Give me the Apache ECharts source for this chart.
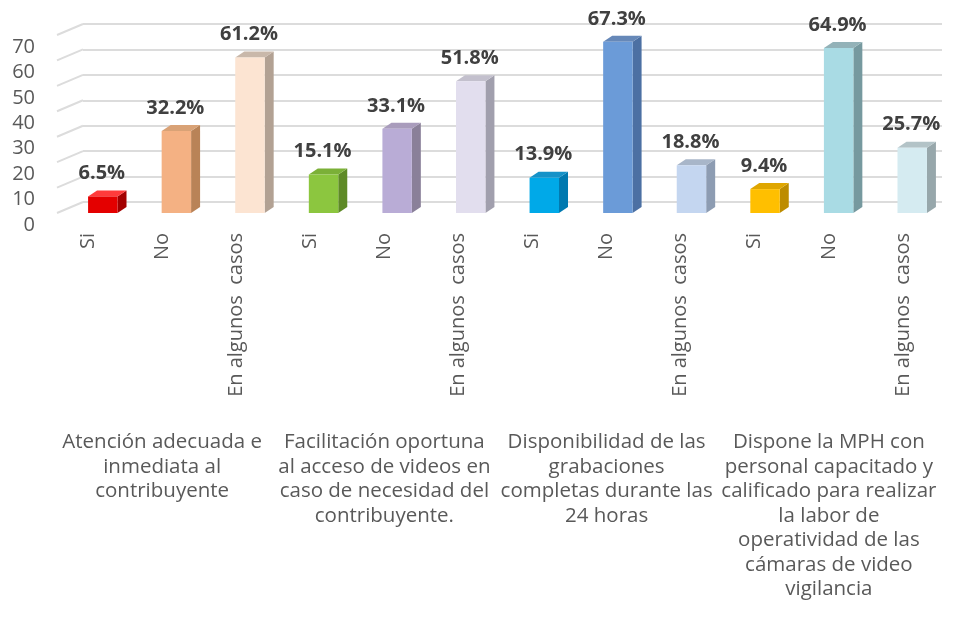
<!DOCTYPE html>
<html>
<head>
<meta charset="utf-8">
<script src="https://cdn.jsdelivr.net/npm/echarts@6/dist/echarts.min.js"></script>
<style>
  html, body { margin: 0; padding: 0; background: #fff; }
  #chart { width: 955px; height: 628px; }
</style>
</head>
<body>
<div id="chart"></div>
<script>
const categories = [
  'Si', 'No', 'En algunos  casos',
  'Si', 'No', 'En algunos  casos',
  'Si', 'No', 'En algunos  casos',
  'Si', 'No', 'En algunos  casos'
]
const groups = [
  'Atención adecuada e\ninmediata al\ncontribuyente',
  'Facilitación oportuna\nal acceso de videos en\ncaso de necesidad del\ncontribuyente.',
  'Disponibilidad de las\ngrabaciones\ncompletas durante las\n24 horas',
  'Dispone la MPH con\npersonal capacitado y\ncalificado para realizar\nla labor de\noperatividad de las\ncámaras de video\nvigilancia'
]
const values = [6.5, 32.2, 61.2, 15.1, 33.1, 51.8, 13.9, 67.3, 18.8, 9.4, 64.9, 25.7]
const gridTicks = [0, 10, 20, 30, 40, 50, 60, 70]

const frontColors = ['#e40000', '#f4b183', '#fce4d2', '#8cc63f', '#b9acd6', '#e2deee',
  '#00a9e8', '#6b9bd8', '#c4d6f0', '#ffbf00', '#a9dbe4', '#d5ebf1']
const sideColors = ['#a30000', '#b98357', '#b2a193', '#5e8a26', '#8a8099', '#a19fad',
  '#0079b0', '#4c70a3', '#8d9cb2', '#bd8c00', '#76999f', '#97a7ab']
const topColors = ['#ff3b3b', '#d9a276', '#c9b8aa', '#7bb037', '#a99cbc', '#c3c0cd',
  '#1592c8', '#6688b8', '#a8b6c9', '#dfa600', '#93b2b8', '#b3c3c7']

const myChart = echarts.init(document.getElementById('chart'))

const option = {
  animation: false,
  grid: [
    // bars
    { left: 66, right: 6, top: 35, bottom: 415 },
    // labels (shifted for the 3D look)
    { left: 51, right: 15, top: 47, bottom: 403 },
    // back wall
    { left: 83, right: 13, top: 24, bottom: 426 }
  ],
  xAxis: [
    { type: 'category', gridIndex: 0, data: categories, show: false },
    {
      type: 'category', gridIndex: 1, data: categories,
      axisLine: { show: false }, axisTick: { show: false },
      axisLabel: {
        rotate: 90, margin: 8, interval: 0,
        fontFamily: 'Open Sans', fontSize: 20, color: '#595959'
      }
    },
    {
      type: 'category', gridIndex: 1, data: groups, position: 'bottom',
      axisLine: { show: false }, axisTick: { show: false },
      axisLabel: {
        margin: 205, interval: 0, lineHeight: 24.5, verticalAlign: 'top',
        fontFamily: 'Open Sans', fontSize: 20.5, color: '#595959', align: 'center'
      }
    },
    { type: 'category', gridIndex: 2, data: categories, show: false }
  ],
  yAxis: [
    { type: 'value', gridIndex: 0, min: 0, max: 70, interval: 10, show: false },
    {
      type: 'value', gridIndex: 1, min: 0, max: 70, interval: 10,
      axisLine: { show: false }, axisTick: { show: false }, splitLine: { show: false },
      axisLabel: { margin: 16, fontFamily: 'Open Sans', fontSize: 20, color: '#595959' }
    },
    {
      type: 'value', gridIndex: 2, min: 0, max: 70, interval: 10,
      axisLine: { show: false }, axisTick: { show: false }, axisLabel: { show: false },
      splitLine: { lineStyle: { color: '#dcdcdc', width: 2 } }
    }
  ],
  series: [
    {
      // side wall lines
      type: 'custom',
      xAxisIndex: 3,
      yAxisIndex: 2,
      data: gridTicks.map(v => [0, v]),
      silent: true,
      z: 1,
      renderItem (params, api) {
        const p = api.coord([0, api.value(1)])
        const x = params.coordSys.x
        return {
          type: 'line',
          shape: { x1: x, y1: p[1], x2: x - 26, y2: p[1] + 11 },
          style: { stroke: '#dcdcdc', lineWidth: 2 }
        }
      }
    },
    {
      type: 'custom',
      xAxisIndex: 0,
      yAxisIndex: 0,
      data: values.map((v, i) => [i, v]),
      z: 5,
      renderItem (params, api) {
        const i = api.value(0)
        const v = api.value(1)
        const top = api.coord([i, v])
        const base = api.coord([i, 0])
        const w = api.size([1, 0])[0] * 0.4
        const x0 = top[0] - w / 2
        const x1 = top[0] + w / 2
        const dx = 9
        const dy = 6
        return {
          type: 'group',
          children: [
            {
              type: 'polygon',
              shape: { points: [[x1, top[1]], [x1 + dx, top[1] - dy], [x1 + dx, base[1] - dy], [x1, base[1]]] },
              style: { fill: sideColors[i] }
            },
            {
              type: 'polygon',
              shape: { points: [[x0, top[1]], [x0 + dx, top[1] - dy], [x1 + dx, top[1] - dy], [x1, top[1]]] },
              style: { fill: topColors[i] }
            },
            {
              type: 'rect',
              shape: { x: x0, y: top[1], width: w, height: base[1] - top[1] },
              style: { fill: frontColors[i] }
            },
            {
              type: 'text',
              x: top[0] - 1,
              y: top[1] - 13,
              style: {
                text: v + '%',
                align: 'center',
                verticalAlign: 'bottom',
                fontFamily: 'Open Sans',
                fontWeight: 'bold',
                fontSize: 20,
                fill: '#404040'
              }
            }
          ]
        }
      }
    }
  ]
}
myChart.setOption(option)
</script>
</body>
</html>
